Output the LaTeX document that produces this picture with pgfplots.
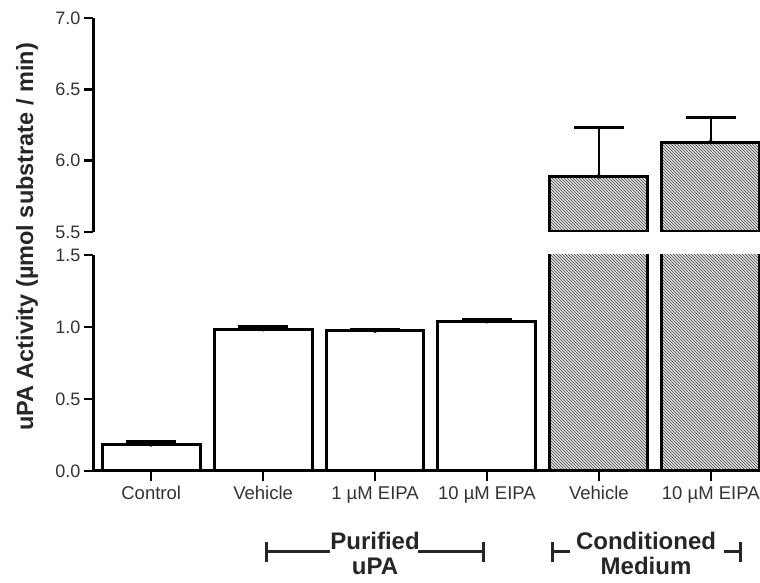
\documentclass[border=0pt]{standalone}
\usepackage{fontspec}
\setmainfont{Liberation Sans}
\usepackage{pgfplots}
\pgfplotsset{compat=1.18}
\usetikzlibrary{patterns}
\begin{document}
\begin{tikzpicture}[x=1pt,y=1pt]
\useasboundingbox (0,0) rectangle (760,583);
\pgfplotsset{
  common/.style={
    scale only axis, width=667pt, anchor=south west,
    xmin=-0.52, xmax=5.44,
    axis line style={line width=3pt},
    major tick style={line width=2.5pt, black},
    major tick length=9pt,
    yticklabel style={font=\fontsize{18}{21}\selectfont, text=black!80},
    xticklabel style={font=\fontsize{18.5}{22}\selectfont, text=black!80, yshift=-3pt},
    /pgf/number format/.cd, fixed, fixed zerofill, precision=1, assume math mode=true,
  },
  hbar/.style={ybar, bar width=0.875, draw=black, line width=3pt, fill=gray!20, postaction={pattern=north west lines, pattern color=black!75}},
  wbar/.style={ybar, bar width=0.875, draw=black, line width=3pt, fill=white},
  errs/.style={only marks, mark=none, black,
    error bars/.cd, y dir=plus, y explicit,
    error bar style={line width=2pt, black},
    error mark options={rotate=90, line width=3pt, mark size=25pt, black}},
}
% upper panel
\begin{axis}[common, at={(93pt,351pt)}, height=214pt,
  ymin=5.5, ymax=7, ytick={5.5,6,6.5,7},
  axis y line*=left, axis x line=none, tick align=outside]
\addplot[hbar] coordinates {(4,5.89) (5,6.13)};
\addplot[errs] coordinates {(4,5.89) +- (0,0.34) (5,6.13) +- (0,0.17)};
\end{axis}
% lower panel
\begin{axis}[common, name=lo, at={(93pt,112pt)}, height=216pt,
  ymin=0, ymax=1.5, ytick={0,0.5,1,1.5},
  axis y line*=left, axis x line*=bottom,
  tick align=outside,
  xtick={0,1,2,3,4,5},
  xticklabels={Control, Vehicle, 1 µM EIPA, 10 µM EIPA, Vehicle, 10 µM EIPA}]
\addplot[wbar] coordinates {(0,0.185) (1,0.985) (2,0.975) (3,1.04)};
\addplot[hbar] coordinates {(4,5.89) (5,6.13)};
\addplot[errs] coordinates {(0,0.185) +- (0,0.02) (1,0.985) +- (0,0.015) (2,0.975) +- (0,0.01) (3,1.04) +- (0,0.01)};
\coordinate (t0) at (axis cs:0,0);
\coordinate (t1) at (axis cs:1,0);
\coordinate (t2) at (axis cs:2,0);
\coordinate (t3) at (axis cs:3,0);
\coordinate (t4) at (axis cs:4,0);
\coordinate (t5) at (axis cs:5,0);
\end{axis}
% x ticks
\foreach \i in {0,...,5} {\draw[line width=2.5pt, black] ([yshift=-1pt]t\i) -- ([yshift=-10pt]t\i);}
% y label
\node[rotate=90, anchor=base, font=\bfseries\fontsize{23.5}{27}\selectfont, text=black!85] at (33pt,346pt) {uPA Activity (µmol substrate / min)};
% group brackets
\begin{scope}[line width=3pt, black!85]
\draw (266,31) -- (330,31); \draw (418,31) -- (483,31);
\draw (266,21) -- (266,41); \draw (483,21) -- (483,41);
\draw (552,31) -- (570,31); \draw (724,31) -- (740,31);
\draw (552,21) -- (552,41); \draw (740,21) -- (740,41);
\end{scope}
\node[anchor=base, font=\bfseries\fontsize{24}{28}\selectfont, text=black!85] at (375,33) {Purified};
\node[anchor=base, font=\bfseries\fontsize{24}{28}\selectfont, text=black!85] at (375,8) {uPA};
\node[anchor=base, font=\bfseries\fontsize{24}{28}\selectfont, text=black!85] at (646,33) {Conditioned};
\node[anchor=base, font=\bfseries\fontsize{24}{28}\selectfont, text=black!85] at (646,8) {Medium};
\end{tikzpicture}
\end{document}
